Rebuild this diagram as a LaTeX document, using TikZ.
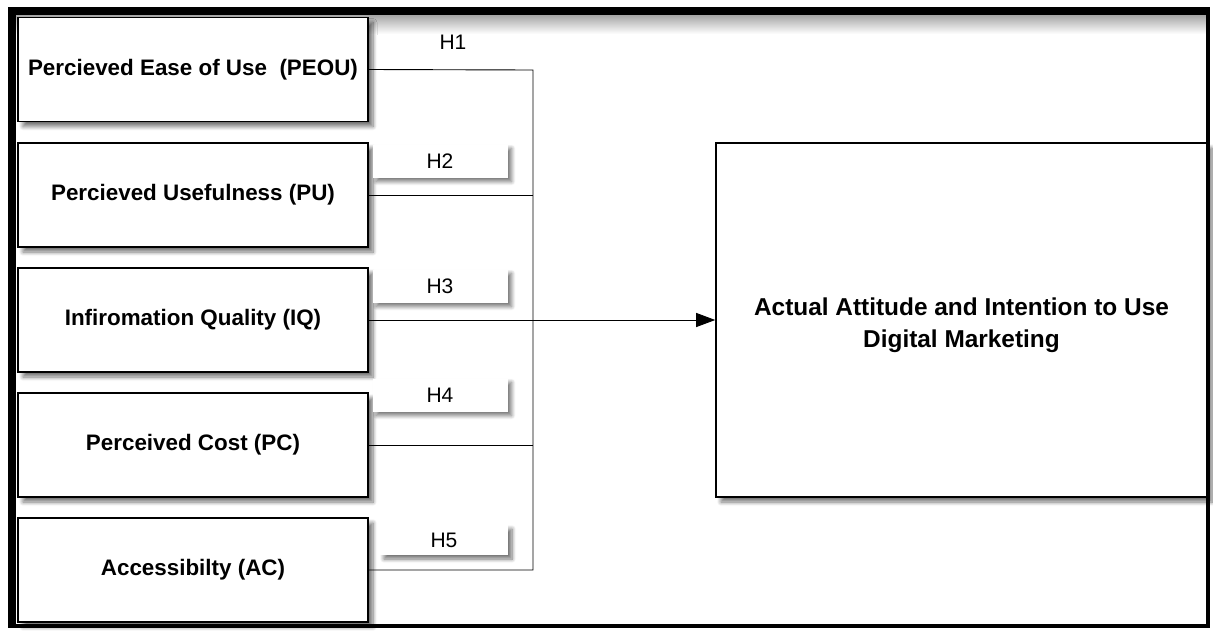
\documentclass[tikz,border=0pt]{standalone}
\usepackage{fontspec}
\setmainfont{Liberation Sans}
\usetikzlibrary{shadows.blur,arrows.meta}
\begin{document}
\begin{tikzpicture}[x=1pt,y=-1pt,
  factor/.style={draw=black,line width=1.6pt,fill=white,minimum width=350pt,minimum height=104pt,
    inner sep=0pt,font=\fontsize{22.4}{26}\selectfont\bfseries,
    blur shadow={shadow xshift=5pt,shadow yshift=-5pt,shadow blur steps=8,shadow blur radius=4pt,shadow opacity=55}},
  target/.style={factor,minimum width=491pt,minimum height=354pt,align=center,font=\fontsize{24.4}{32}\selectfont\bfseries},
  hlab/.style={fill=white,minimum width=135pt,minimum height=33pt,inner sep=0pt,font=\fontsize{21}{25}\selectfont,
    blur shadow={shadow xshift=4pt,shadow yshift=-4pt,shadow blur steps=8,shadow blur radius=4pt,shadow opacity=55}},
  link/.style={draw=black,line width=0.9pt}]
\useasboundingbox (0,0) rectangle (1213,630);
% outer frame
\shade[top color=gray!70,bottom color=white] (16,15) rectangle (1206,34);
\fill[black] (8,7) rectangle (1210,15);
\fill[black] (8,7) rectangle (16,628);
\fill[black] (1206,7) rectangle (1210,628);
\fill[black] (8,624) rectangle (1210,628);
% junction coordinates
\coordinate (j1) at (533,70);
\coordinate (j5) at (533,570);
% boxes
\node[factor] (peou) at (193,69.5) {Percieved Ease of Use\ \ (PEOU)};
\node[factor] (pu) at (193,195) {Percieved Usefulness (PU)};
\node[factor] (iq) at (193,320) {Infiromation Quality (IQ)};
\node[factor] (pc) at (193,445) {Perceived Cost (PC)};
\node[factor] (ac) at (193,570) {Accessibilty (AC)};
\node[target] (act) at (961.5,320) {\rule{0pt}{30pt}Actual Attitude and Intention to Use\\Digital Marketing\rule[-8pt]{0pt}{8pt}};
% labels
\node[font=\fontsize{21}{25}\selectfont] (h1) at (453,42) {H1};
\node[hlab] (h2) at (440,161) {H2};
\node[hlab] (h3) at (440,286) {H3};
\node[hlab] (h4) at (440,395) {H4};
\node[hlab,minimum width=128pt,minimum height=30pt] (h5) at (444,540) {H5};
% connectors
\draw[link] (peou.east) -- (j1) -- (j5) -- (ac.east);
\draw[link] (pu.east) -- (pu.east -| j1);
\draw[link] (pc.east) -- (pc.east -| j1);
\draw[link,-{Triangle[length=19pt,width=14pt]}] (iq.east) -- (act.west);
\end{tikzpicture}
\end{document}
